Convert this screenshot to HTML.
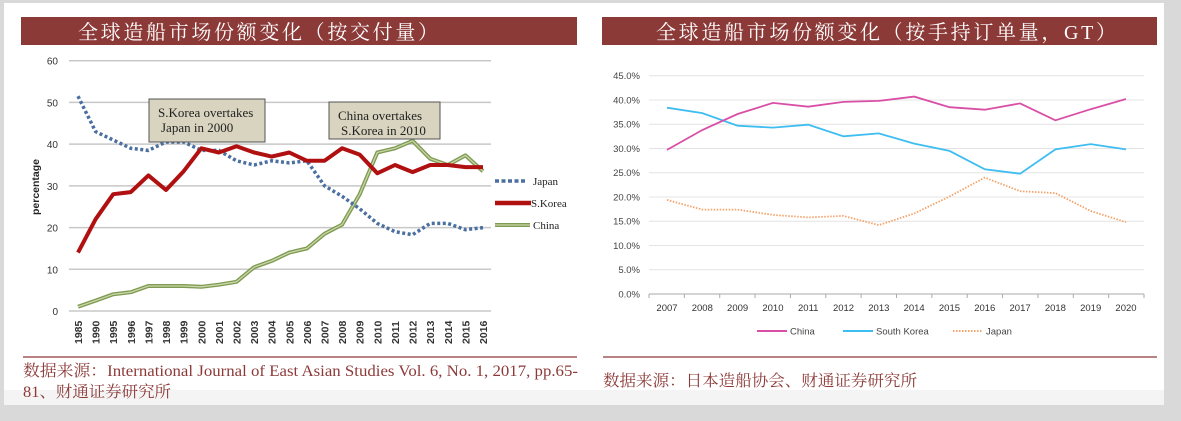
<!DOCTYPE html>
<html><head><meta charset="utf-8">
<style>
html,body{margin:0;padding:0;background:#d9d9d9;}
#wrap{position:relative;width:1181px;height:421px;overflow:hidden;background:#d9d9d9;}
svg{position:absolute;left:0;top:0;}
</style></head>
<body>
<div id="wrap">
<svg id="s" width="1181" height="421" xmlns="http://www.w3.org/2000/svg">
  <rect x="4" y="3" width="1160" height="402" fill="#ffffff"/>
  <rect x="4" y="390" width="1160" height="15" fill="#f4f4f4"/>
  <g>
    <rect x="21" y="17" width="556" height="28" fill="#8c3a38"/>
    <text x="78" y="39" fill="#fff" font-size="20" textLength="360" lengthAdjust="spacing" font-family="'Liberation Serif','Noto Serif CJK SC',serif">全球造船市场份额变化（按交付量）</text>
  </g>
  <g>
    <rect x="602" y="17" width="555" height="28" fill="#8c3a38"/>
    <text x="656" y="39" fill="#fff" font-size="20" textLength="460" lengthAdjust="spacing" font-family="'Liberation Serif','Noto Serif CJK SC',serif">全球造船市场份额变化（按手持订单量，GT）</text>
  </g>
  <g id="left"></g>
  <g id="right"></g>
  <line x1="23" y1="357" x2="577" y2="357" stroke="#a05a58" stroke-width="1.5"/>
  <line x1="603" y1="357" x2="1157" y2="357" stroke="#a05a58" stroke-width="1.5"/>
  <text x="23" y="376" fill="#8c3a38" font-size="16" textLength="555" lengthAdjust="spacingAndGlyphs" font-family="'Liberation Serif','Noto Serif CJK SC',serif">数据来源：International Journal of East Asian Studies Vol. 6, No. 1, 2017, pp.65-</text>
  <text x="23" y="397" fill="#8c3a38" font-size="16" textLength="148" lengthAdjust="spacingAndGlyphs" font-family="'Liberation Serif','Noto Serif CJK SC',serif">81、财通证券研究所</text>
  <text x="603" y="386" fill="#8c3a38" font-size="16" textLength="314" lengthAdjust="spacingAndGlyphs" font-family="'Liberation Serif','Noto Serif CJK SC',serif">数据来源：日本造船协会、财通证券研究所</text>
</svg>
</div>
<script>
// ---- Left chart data ----
const leftYears = ["1985","1990","1995","1996","1997","1998","1999","2000","2001","2002","2003","2004","2005","2006","2007","2008","2009","2010","2011","2012","2013","2014","2015","2016"];
const leftJapan = [51.5,43,41,39,38.5,40.5,40.5,38.5,38.5,36,35,36,35.5,36,30,27.5,24.5,21,19,18.3,21,21,19.5,20];
const leftKorea = [14,22,28,28.5,32.5,29,33.5,39,38,39.5,38,37,38,36,36,39,37.5,33,35,33.3,35,35,34.5,34.5];
const leftChina = [1,2.5,4,4.5,6,6,6,5.8,6.3,7,10.5,12,14,15,18.5,20.7,28,38,39,40.8,36.5,35,37.3,33.5];
const leftTicks = [0,10,20,30,40,50,60];
// ---- Right chart data ----
const rightYears = ["2007","2008","2009","2010","2011","2012","2013","2014","2015","2016","2017","2018","2019","2020"];
const rightChina = [29.7,33.8,37.1,39.4,38.6,39.6,39.8,40.7,38.5,38,39.3,35.8,38.1,40.2];
const rightKorea = [38.4,37.3,34.7,34.3,34.9,32.5,33.1,31,29.5,25.7,24.8,29.8,30.9,29.8];
const rightJapan = [19.4,17.4,17.4,16.3,15.8,16.1,14.2,16.6,20.1,24,21.2,20.8,17.1,14.8];
const rightTicks = [0,5,10,15,20,25,30,35,40,45];

const NS="http://www.w3.org/2000/svg";
function mk(p,tag,attrs,txt){const e=document.createElementNS(NS,tag);for(const k in attrs)e.setAttribute(k,attrs[k]);if(txt!==undefined)e.textContent=txt;p.appendChild(e);return e;}

// Left
(function(){
const g=document.getElementById('left');
const x0=78,x1=483,yTop=60.7,yBot=311,x0a=69,x1a=491;
const xs=i=>x0+(x1-x0)*i/(leftYears.length-1);
const ys=v=>yBot-(yBot-yTop)*v/60;
leftTicks.forEach(t=>{
 const l=mk(g,'line',{x1:x0a,x2:x1a,y1:ys(t),y2:ys(t),stroke:'#c8c8c8','stroke-width':1.5});
 
 
 const tx=mk(g,'text',{x:58,y:ys(t)+4,'text-anchor':'end','font-size':10,'font-family':'Liberation Sans, sans-serif',fill:'#333'},t);
 
 
});
leftYears.forEach((yr,i)=>{
 const tx=mk(g,'text',{transform:`translate(${xs(i)+4},${344}) rotate(-90)`,'font-size':10.5,'font-weight':'bold','font-family':'Liberation Sans, sans-serif',fill:'#333'},yr);
 
 
});
const yl=mk(g,'text',{transform:'translate(39,187) rotate(-90)','text-anchor':'middle','font-size':10.5,'font-weight':'bold','font-family':'Liberation Sans, sans-serif',fill:'#222'},'percentage');


const pts=a=>a.map((v,i)=>xs(i).toFixed(1)+','+ys(v).toFixed(1)).join(' ');
const c1=mk(g,'polyline',{points:pts(leftChina),fill:'none',stroke:'#7f9a52','stroke-width':4,'stroke-linejoin':'round'});


const c2=mk(g,'polyline',{points:pts(leftChina),fill:'none',stroke:'#c9d7a8','stroke-width':1.3,'stroke-linejoin':'round'});


const j=mk(g,'polyline',{points:pts(leftJapan),fill:'none',stroke:'#4a6fa0','stroke-width':3.5,'stroke-dasharray':'3 2.5'});


const k=mk(g,'polyline',{points:pts(leftKorea),fill:'none',stroke:'#b01010','stroke-width':4,'stroke-linejoin':'round'});


const b1=mk(g,'g',{});


mk(b1,'rect',{x:149,y:99,width:116,height:43,fill:'#d8d4bf',stroke:'#555','stroke-width':1});
mk(b1,'text',{x:158,y:117,'font-size':13,'font-family':'Liberation Serif, serif',fill:'#222'},'S.Korea overtakes');
mk(b1,'text',{x:161,y:132,'font-size':13,'font-family':'Liberation Serif, serif',fill:'#222'},'Japan in 2000');
const b2=mk(g,'g',{});


mk(b2,'rect',{x:329,y:102,width:111,height:37,fill:'#d8d4bf',stroke:'#555','stroke-width':1});
mk(b2,'text',{x:338,y:120,'font-size':13,'font-family':'Liberation Serif, serif',fill:'#222'},'China overtakes');
mk(b2,'text',{x:341,y:135,'font-size':13,'font-family':'Liberation Serif, serif',fill:'#222'},'S.Korea in 2010');
const lg=[['Japan',181],['S.Korea',203],['China',225]];
lg.forEach(([n,y],i)=>{
 const e=mk(g,'g',{});
 
 
 if(i===0) mk(e,'line',{x1:495,x2:525,y1:y,y2:y,stroke:'#4a6fa0','stroke-width':3.5,'stroke-dasharray':'4 2.5'});
 if(i===1) mk(e,'line',{x1:495,x2:531,y1:y,y2:y,stroke:'#b01010','stroke-width':4.5});
 if(i===2){mk(e,'line',{x1:495,x2:530,y1:y,y2:y,stroke:'#7f9a52','stroke-width':4});mk(e,'line',{x1:495,x2:530,y1:y,y2:y,stroke:'#c9d7a8','stroke-width':1.3});}
 mk(e,'text',{x:i===1?531:533,y:y+4,'font-size':11,'font-family':'Liberation Serif, serif',fill:'#222'},n);
});
})();

// Right
(function(){
const g=document.getElementById('right');
const x0=667,x1=1126,yTop=75.7,yBot=294,xa0=649,xa1=1144;
const xs=i=>x0+(x1-x0)*i/(rightYears.length-1);
const ys=v=>yBot-(yBot-yTop)*v/45;
rightTicks.forEach(t=>{
 if(t>0){const l=mk(g,'line',{x1:xa0,x2:xa1,y1:ys(t),y2:ys(t),stroke:'#e4e4e4','stroke-width':1});
 
 }
 const tx=mk(g,'text',{x:640,y:ys(t)+3.5,'text-anchor':'end','font-size':9.5,'font-family':'Liberation Sans, sans-serif',fill:'#444'},t.toFixed(1)+'%');
 
 
});
const ax=mk(g,'line',{x1:xa0,x2:xa1,y1:yBot,y2:yBot,stroke:'#aaa','stroke-width':1});


const step=(xa1-xa0)/rightYears.length;
for(let i=0;i<=rightYears.length;i++){
 const tk=mk(g,'line',{x1:xa0+step*i,x2:xa0+step*i,y1:yBot,y2:yBot+4,stroke:'#aaa'});
 
 
}
rightYears.forEach((yr,i)=>{
 const tx=mk(g,'text',{x:xs(i),y:311,'text-anchor':'middle','font-size':9.5,'font-family':'Liberation Sans, sans-serif',fill:'#333'},yr);
 
 
});
const pts=a=>a.map((v,i)=>xs(i).toFixed(1)+','+ys(v).toFixed(1)).join(' ');
const jp=mk(g,'polyline',{points:pts(rightJapan),fill:'none',stroke:'#f4a36a','stroke-width':1.8,'stroke-dasharray':'1.5 1.5'});


const kr=mk(g,'polyline',{points:pts(rightKorea),fill:'none',stroke:'#3ebdf0','stroke-width':1.8});


const cn=mk(g,'polyline',{points:pts(rightChina),fill:'none',stroke:'#d94fa6','stroke-width':1.8});


const leg=[['China','#d94fa6',757,null],['South Korea','#3ebdf0',843,null],['Japan','#f4a36a',953,'1.5 1.5']];
leg.forEach(([n,c,x,d])=>{
 const e=mk(g,'g',{});
 
 
 const a={x1:x,x2:x+30,y1:331,y2:331,stroke:c,'stroke-width':2};
 if(d)a['stroke-dasharray']=d;
 mk(e,'line',a);
 mk(e,'text',{x:x+33,y:334.5,'font-size':9.5,'font-family':'Liberation Sans, sans-serif',fill:'#444'},n);
});
})();
</script>
</body></html>
